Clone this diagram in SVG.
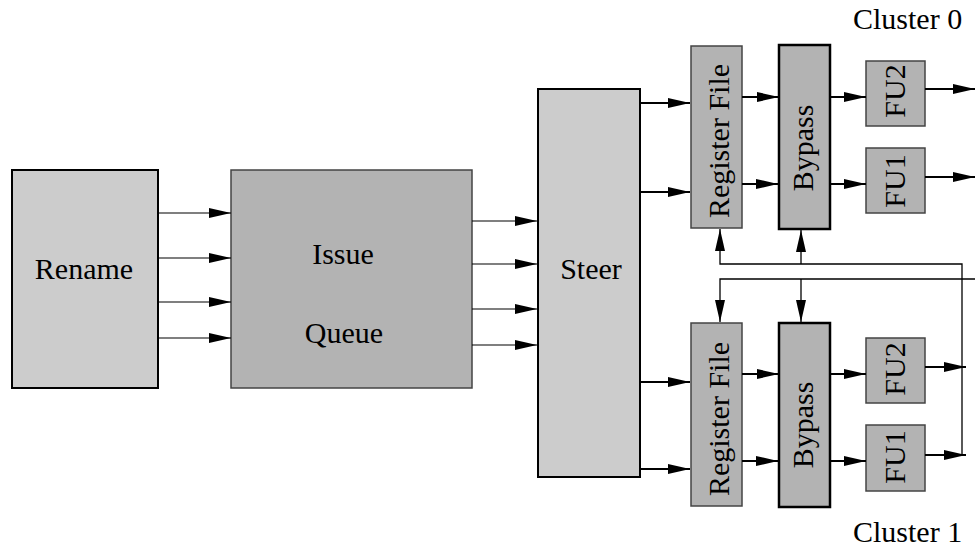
<svg xmlns="http://www.w3.org/2000/svg" width="975" height="548" viewBox="0 0 975 548">
<style>
text{font-family:"Liberation Serif","Times New Roman",serif;font-size:30px;fill:#000}
.c{text-anchor:middle}
.light{fill:#cccccc;stroke:#000;stroke-width:2}
.dark{fill:#b3b3b3;stroke:#444;stroke-width:1.5}
.byp{fill:#b3b3b3;stroke:#000;stroke-width:2.5}
.thin{fill:none;stroke:#000;stroke-width:1.2}
.med{fill:none;stroke:#000;stroke-width:2}
.fb{fill:none;stroke:#000;stroke-width:1.3}
</style>
<defs>
<marker id="ah" viewBox="0 0 22 10" refX="22" refY="5" markerWidth="22" markerHeight="10" markerUnits="userSpaceOnUse" orient="auto">
<path d="M0,0 L22,5 L0,10 z" fill="#000"/>
</marker>
</defs>
<g id="rename"><rect class="light" x="12" y="170" width="146" height="218"/><text class="c" x="84" y="279">Rename</text></g>
<g id="issue"><rect class="dark" x="231" y="170" width="241" height="218"/><text class="c" x="343" y="264">Issue</text><text class="c" x="344" y="343">Queue</text></g>
<g id="steer"><rect class="light" x="538" y="89" width="102" height="388"/><text class="c" x="591" y="279">Steer</text></g>
<g id="rf0"><rect class="dark" x="691" y="46" width="51" height="182"/><text class="c" transform="translate(729,141) rotate(-90)">Register File</text></g>
<g id="bypass0"><rect class="byp" x="779" y="45" width="51" height="184"/><text class="c" transform="translate(813,148) rotate(-90)">Bypass</text></g>
<g id="fu2_0"><rect class="dark" x="866" y="61" width="59" height="65"/><text class="c" transform="translate(905,91) rotate(-90)">FU2</text></g>
<g id="fu1_0"><rect class="dark" x="866" y="148" width="59" height="65"/><text class="c" transform="translate(905,181) rotate(-90)">FU1</text></g>
<g id="rf1"><rect class="dark" x="691" y="323" width="51" height="183"/><text class="c" transform="translate(729,419) rotate(-90)">Register File</text></g>
<g id="bypass1"><rect class="byp" x="779" y="323" width="51" height="184"/><text class="c" transform="translate(813,425) rotate(-90)">Bypass</text></g>
<g id="fu2_1"><rect class="dark" x="866" y="338" width="59" height="65"/><text class="c" transform="translate(905,369) rotate(-90)">FU2</text></g>
<g id="fu1_1"><rect class="dark" x="866" y="425" width="59" height="66"/><text class="c" transform="translate(905,457) rotate(-90)">FU1</text></g>
<g id="label0"><text x="853" y="29">Cluster 0</text></g>
<g id="label1"><text x="853" y="542">Cluster 1</text></g>
<g id="connectors" marker-end="url(#ah)">
<path class="thin" d="M158,213H231" marker-end="url(#ah)"/>
<path class="thin" d="M158,258H231" marker-end="url(#ah)"/>
<path class="thin" d="M158,302H231" marker-end="url(#ah)"/>
<path class="thin" d="M158,338H231" marker-end="url(#ah)"/>
<path class="thin" d="M472,221H537" marker-end="url(#ah)"/>
<path class="thin" d="M472,264H537" marker-end="url(#ah)"/>
<path class="thin" d="M472,309H537" marker-end="url(#ah)"/>
<path class="thin" d="M472,345H537" marker-end="url(#ah)"/>
<path class="med" d="M640,103H690" marker-end="url(#ah)"/>
<path class="med" d="M640,192H690" marker-end="url(#ah)"/>
<path class="med" d="M742,97H779" marker-end="url(#ah)"/>
<path class="med" d="M742,184H778" marker-end="url(#ah)"/>
<path class="med" d="M830,97H866" marker-end="url(#ah)"/>
<path class="med" d="M830,184H866" marker-end="url(#ah)"/>
<path class="med" d="M925,89H975" marker-end="url(#ah)"/>
<path class="med" d="M925,177H975" marker-end="url(#ah)"/>
<path class="med" d="M640,382H690" marker-end="url(#ah)"/>
<path class="med" d="M640,469H690" marker-end="url(#ah)"/>
<path class="med" d="M742,374H779" marker-end="url(#ah)"/>
<path class="med" d="M742,461H778" marker-end="url(#ah)"/>
<path class="med" d="M830,374H866" marker-end="url(#ah)"/>
<path class="med" d="M830,461H866" marker-end="url(#ah)"/>
<path class="med" d="M925,367H966" marker-end="url(#ah)"/>
<path class="med" d="M925,455H966" marker-end="url(#ah)"/>
<path class="fb" d="M962,455V264H720V229" marker-end="url(#ah)"/>
<path class="fb" d="M801,264V230" marker-end="url(#ah)"/>
<path class="fb" d="M975,279H720V322" marker-end="url(#ah)"/>
<path class="fb" d="M801,279V322" marker-end="url(#ah)"/>
</g>
</svg>
